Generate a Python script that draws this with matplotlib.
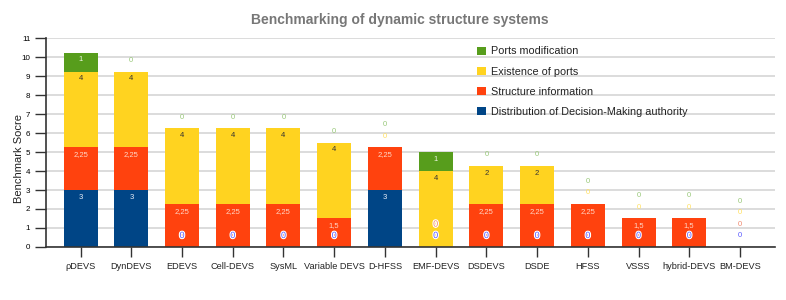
import numpy as np
import matplotlib.pyplot as plt
import matplotlib.patheffects as pe

plt.rcParams['font.family'] = ['Liberation Sans', 'DejaVu Sans']

systems = ["ρDEVS", "DynDEVS", "EDEVS", "Cell-DEVS", "SysML", "Variable DEVS",
           "D-HFSS", "EMF-DEVS", "DSDEVS", "DSDE", "HFSS", "VSSS",
           "hybrid-DEVS", "BM-DEVS"]

decision = [3, 3, 0, 0, 0, 0, 3, 0, 0, 0, 0, 0, 0, 0]
structure = [2.25, 2.25, 2.25, 2.25, 2.25, 1.5, 2.25, 0, 2.25, 2.25, 2.25, 1.5, 1.5, 0]
existence = [4, 4, 4, 4, 4, 4, 0, 4, 2, 2, 0, 0, 0, 0]
modification = [1, 0, 0, 0, 0, 0, 0, 1, 0, 0, 0, 0, 0, 0]

series = [
    ("Distribution of Decision-Making authority", decision, "#004586", "#e8eef8", "#5a5aff"),
    ("Structure information", structure, "#ff420e", "#ffd8c8", "#f08a70"),
    ("Existence of ports", existence, "#ffd320", "#333333", "#ffe060"),
    ("Ports modification", modification, "#579d1c", "#eef6e6", "#98c878"),
]

fig = plt.figure(figsize=(7.86, 3.0), dpi=100)
ax = fig.add_axes([0.058, 0.177, 0.928, 0.695])

x = np.arange(len(systems))
bottom = np.zeros(len(systems))
zero_count = np.zeros(len(systems))
totals = np.sum([decision, structure, existence, modification], axis=0)
handles = []


def fmt(v):
    return ("%g" % v).replace(".", ",")


for name, vals, color, txtcol, zcol in series:
    vals = np.array(vals, dtype=float)
    h = ax.bar(x, vals, 0.67, bottom=bottom, color=color, zorder=2, label=name)
    handles.append(h)
    for i, v in enumerate(vals):
        if v > 0:
            ax.text(x[i], bottom[i] + v - 0.38, fmt(v), ha="center", va="center",
                    fontsize=5.5, color=txtcol, zorder=4)
            zero_count[i] = 0
        else:
            zero_count[i] += 1
            yy = bottom[i] + 0.6 * zero_count[i]
            if yy < totals[i]:
                # zero label sitting inside a bar: outlined
                ax.text(x[i], yy, "0", ha="center", va="center", fontsize=6.5,
                        color=zcol, zorder=5,
                        path_effects=[pe.withStroke(linewidth=1.6, foreground="white")])
            else:
                ax.text(x[i], yy, "0", ha="center", va="center", fontsize=5.5,
                        color=zcol, zorder=5)
    bottom = bottom + vals

ax.set_xlim(-0.69, len(systems) - 0.31)
ax.set_ylim(0, 11)
ax.set_yticks(range(0, 12))
ax.set_xticks(x)
ax.set_xticklabels(systems, fontsize=6.6, color="#222222")
ax.tick_params(axis="y", labelsize=5.8, length=8, width=1, color="#333333", pad=3)
ax.tick_params(axis="x", length=7, width=1, color="#333333", pad=4)
ax.yaxis.grid(True, color="#d6d6d6", linewidth=1.2, zorder=0)
ax.set_axisbelow(True)
for s in ["top", "right"]:
    ax.spines[s].set_visible(False)
for s in ["left", "bottom"]:
    ax.spines[s].set_color("#333333")
    ax.spines[s].set_linewidth(1.2)
    ax.spines[s].set_zorder(3)

ax.set_ylabel("Benchmark Socre", fontsize=8, color="#222222", va="center")
ax.yaxis.set_label_coords(-0.037, 0.426)
fig.text(0.509, 0.933, "Benchmarking of dynamic structure systems", ha="center",
         va="center", fontsize=10, fontweight="bold", color="#777777")

leg = ax.legend(handles[::-1], [s[0] for s in series][::-1], loc="upper left",
                bbox_to_anchor=(0.592, 0.962), frameon=False, fontsize=7.8,
                handlelength=0.75, handleheight=0.75, labelspacing=0.95,
                handletextpad=0.55, borderpad=0, borderaxespad=0)
for t in leg.get_texts():
    t.set_color("#222222")

fig.savefig("out.png", dpi=100)
